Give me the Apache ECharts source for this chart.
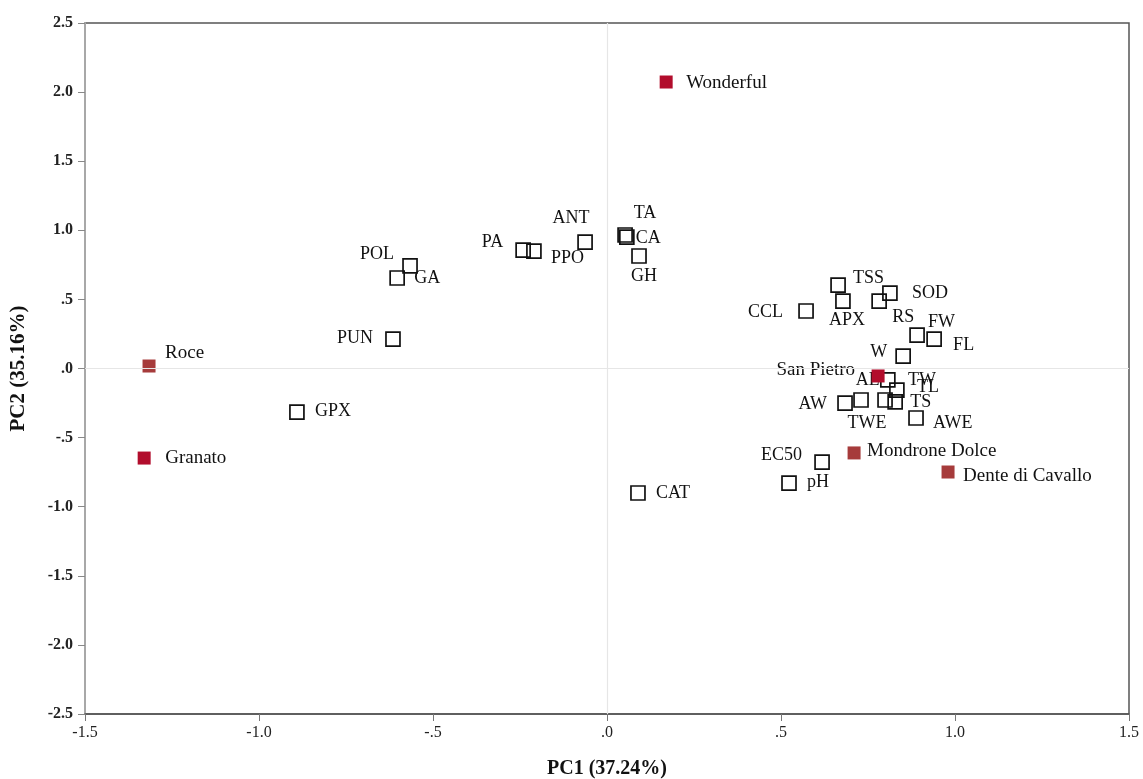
<!DOCTYPE html>
<html>
<head>
<meta charset="utf-8">
<script src="https://cdn.jsdelivr.net/npm/echarts@6/dist/echarts.min.js"></script>
<style>
html,body{margin:0;padding:0;background:#fff;}
#chart{width:1143px;height:779px;}
</style>
</head>
<body>
<div id="chart"></div>
<script>
// ---------------- DATA ----------------
const xTickValues = [-1.5, -1.0, -0.5, 0, 0.5, 1.0, 1.5];
const xTickLabels = ['-1.5', '-1.0', '-.5', '.0', '.5', '1.0', '1.5'];
const yTickValues = [-2.5, -2.0, -1.5, -1.0, -0.5, 0, 0.5, 1.0, 1.5, 2.0, 2.5];
const yTickLabels = ['-2.5', '-2.0', '-1.5', '-1.0', '-.5', '.0', '.5', '1.0', '1.5', '2.0', '2.5'];

const xAxisTitle = 'PC1 (37.24%)';
const yAxisTitle = 'PC2 (35.16%)';

// cultivars (filled squares)
const cultivarsA = ['Wonderful', 'Granato', 'San Pietro'];
const cultivarsA_PC1 = [0.170, -1.330, 0.779];
const cultivarsA_PC2 = [2.073, -0.648, -0.054];

const cultivarsB = ['Roce', 'Mondrone Dolce', 'Dente di Cavallo'];
const cultivarsB_PC1 = [-1.316, 0.710, 0.980];
const cultivarsB_PC2 = [0.018, -0.611, -0.749];

// variables (open squares)
const variables = ['POL', 'GA', 'PA', 'PPO', 'ANT', 'TA', 'CA', 'GH', 'PUN', 'GPX', 'CAT',
  'CCL', 'TSS', 'APX', 'RS', 'SOD', 'FW', 'FL', 'W', 'AL', 'TW', 'TL', 'TS', 'AW', 'TWE', 'AWE', 'EC50', 'pH'];
const variablesPC1 = [-0.566, -0.603, -0.241, -0.210, -0.063, 0.052, 0.057, 0.092, -0.615, -0.891, 0.089,
  0.572, 0.664, 0.678, 0.782, 0.813, 0.891, 0.940, 0.851, 0.807, 0.833, 0.799, 0.828, 0.684, 0.730, 0.888, 0.618, 0.523];
const variablesPC2 = [0.742, 0.655, 0.857, 0.850, 0.915, 0.966, 0.951, 0.814, 0.213, -0.315, -0.901,
  0.416, 0.604, 0.488, 0.488, 0.546, 0.242, 0.213, 0.090, -0.083, -0.156, -0.228, -0.242, -0.250, -0.228, -0.358, -0.677, -0.829];

// ---------------- LABEL LAYOUT (styling) ----------------
// [dx, dy, align] of label anchor relative to the marker centre, in pixels
const labelLayout = {
  'Wonderful': [20, 1, 'left'], 'Granato': [21, 0, 'left'], 'San Pietro': [-23, -6, 'right'],
  'Roce': [16, -13, 'left'], 'Mondrone Dolce': [13, -2, 'left'], 'Dente di Cavallo': [15, 4, 'left'],
  'POL': [-16, -12, 'right'], 'GA': [17, 0, 'left'], 'PA': [-20, -8, 'right'], 'PPO': [17, 7, 'left'],
  'ANT': [-14, -24, 'center'], 'TA': [20, -22, 'center'], 'CA': [9, 1, 'left'], 'GH': [5, 20, 'center'],
  'PUN': [-20, -1, 'right'], 'GPX': [18, -1, 'left'], 'CAT': [18, 0, 'left'], 'CCL': [-23, 1, 'right'],
  'TSS': [15, -7, 'left'], 'APX': [4, 19, 'center'], 'RS': [13, 16, 'left'], 'SOD': [22, 0, 'left'],
  'FW': [11, -13, 'left'], 'FL': [19, 6, 'left'], 'W': [-16, -4, 'right'], 'AL': [-8, 0, 'right'],
  'TW': [11, -10, 'left'], 'TL': [32, -13, 'left'], 'TS': [15, 0, 'left'], 'AW': [-18, 1, 'right'],
  'TWE': [6, 23, 'center'], 'AWE': [17, 5, 'left'], 'EC50': [-20, -7, 'right'], 'pH': [18, -1, 'left']
};

const FONT = '"Liberation Serif", "Times New Roman", serif';

function buildData(names, xs, ys, fontSize) {
  return names.map((n, i) => {
    const l = labelLayout[n] || [12, 0, 'left'];
    return {
      name: n,
      value: [xs[i], ys[i]],
      label: {
        show: true,
        position: 'inside',
        formatter: n,
        offset: [l[0], l[1]],
        align: l[2],
        verticalAlign: 'middle',
        fontFamily: FONT,
        fontSize: fontSize,
        color: '#111'
      }
    };
  });
}

function fmtX(v) {
  const i = xTickValues.findIndex(t => Math.abs(t - v) < 1e-6);
  return i >= 0 ? xTickLabels[i] : '';
}
function fmtY(v) {
  const i = yTickValues.findIndex(t => Math.abs(t - v) < 1e-6);
  return i >= 0 ? yTickLabels[i] : '';
}

const chart = echarts.init(document.getElementById('chart'), null, {renderer: 'canvas'});

const option = {
  backgroundColor: '#ffffff',
  animation: false,
  grid: {
    left: 85, right: 14, top: 23, bottom: 65,
    containLabel: false,
    outerBoundsMode: 'none',
    show: true,
    borderColor: '#555',
    borderWidth: 1.5,
    backgroundColor: 'transparent'
  },
  xAxis: {
    type: 'value',
    min: -1.5, max: 1.5, interval: 0.5,
    name: xAxisTitle,
    nameLocation: 'middle',
    nameGap: 45,
    nameTextStyle: {fontFamily: FONT, fontSize: 20, fontWeight: 'bold', color: '#111'},
    axisLine: {show: true, onZero: false, lineStyle: {color: '#555', width: 1.5}},
    axisTick: {show: true, inside: false, length: 7, lineStyle: {color: '#777', width: 1}},
    axisLabel: {formatter: fmtX, margin: 11, fontFamily: FONT, fontSize: 16, color: '#222'},
    splitLine: {show: false}
  },
  yAxis: {
    type: 'value',
    min: -2.5, max: 2.5, interval: 0.5,
    name: yAxisTitle,
    nameLocation: 'middle',
    nameGap: 56,
    nameRotate: 90,
    nameTextStyle: {fontFamily: FONT, fontSize: 21, fontWeight: 'bold', color: '#111'},
    axisLine: {show: true, onZero: false, lineStyle: {color: '#a8a8a8', width: 2}},
    axisTick: {show: true, inside: false, length: 7, lineStyle: {color: '#888', width: 1}},
    axisLabel: {formatter: fmtY, margin: 12, fontFamily: FONT, fontSize: 16, fontWeight: 'bold', color: '#222'},
    splitLine: {show: false}
  },
  series: [
    {
      type: 'scatter',
      name: 'variables',
      z: 2,
      symbol: 'rect',
      symbolSize: 14,
      itemStyle: {color: 'rgba(255,255,255,0)', borderColor: '#111', borderWidth: 1.7, opacity: 1},
      emphasis: {disabled: true},
      data: buildData(variables, variablesPC1, variablesPC2, 18),
      markLine: {
        silent: true,
        symbol: 'none',
        label: {show: false},
        lineStyle: {color: '#e6e6e6', width: 1.2, type: 'solid'},
        data: [{xAxis: 0}, {yAxis: 0}]
      }
    },
    {
      type: 'scatter',
      name: 'cultivarsA',
      z: 3,
      symbol: 'rect',
      symbolSize: 13,
      itemStyle: {color: '#b20d2c', opacity: 1},
      emphasis: {disabled: true},
      data: buildData(cultivarsA, cultivarsA_PC1, cultivarsA_PC2, 19)
    },
    {
      type: 'scatter',
      name: 'cultivarsB',
      z: 3,
      symbol: 'rect',
      symbolSize: 13,
      itemStyle: {color: '#a63b3b', opacity: 1},
      emphasis: {disabled: true},
      data: buildData(cultivarsB, cultivarsB_PC1, cultivarsB_PC2, 19)
    }
  ]
};

chart.setOption(option);
</script>
</body>
</html>
